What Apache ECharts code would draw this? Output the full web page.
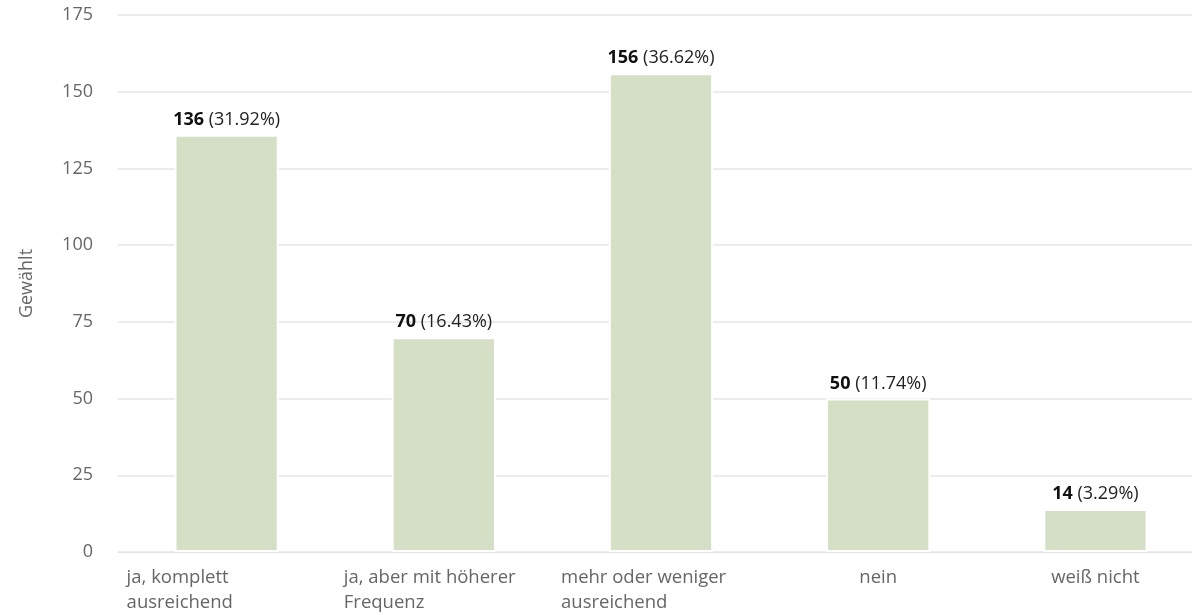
<!DOCTYPE html>
<html>
<head>
<meta charset="utf-8">
<script src="https://cdn.jsdelivr.net/npm/echarts@6/dist/echarts.min.js"></script>
<style>
  html, body { margin: 0; padding: 0; background: #fff; }
  #chart { width: 1192px; height: 615px; }
</style>
</head>
<body>
<div id="chart"></div>
<script>
const categories = [
    'ja, komplett\nausreichend',
    'ja, aber mit höherer\nFrequenz',
    'mehr oder weniger\nausreichend',
    'nein',
    'weiß nicht'
];
const votes = [136, 70, 156, 50, 14];
const shares = ['31.92%', '16.43%', '36.62%', '11.74%', '3.29%'];
const yTicks = { min: 0, max: 175, interval: 25 };

document.addEventListener('DOMContentLoaded', function () {
    const chart = echarts.init(document.getElementById('chart'));
    const font = '"Open Sans", "Noto Sans", sans-serif';

    const option = {
        animation: false,
        textStyle: { fontFamily: font },
        grid: {
            left: 118,
            top: 15,
            width: 1086,
            bottom: 63,
            outerBoundsMode: 'none'
        },
        xAxis: {
            type: 'category',
            data: categories,
            axisLine: { show: true, lineStyle: { color: '#e3e3e3', width: 1 } },
            axisTick: { show: false },
            axisLabel: {
                interval: 0,
                margin: 13,
                color: '#666',
                fontSize: 18.5,
                lineHeight: 25,
                fontFamily: font,
                formatter: function (name) {
                    const lines = name.split('\n');
                    if (lines.length === 1) return name;
                    return lines.map(l => '{w|' + l + '}').join('\n');
                },
                rich: {
                    w: { width: 200, align: 'left', color: '#666', fontSize: 18.5, lineHeight: 25, fontFamily: font }
                }
            }
        },
        yAxis: {
            type: 'value',
            min: yTicks.min,
            max: yTicks.max,
            interval: yTicks.interval,
            name: 'Gewählt',
            nameLocation: 'middle',
            nameGap: 82,
            nameRotate: 90,
            nameTextStyle: { color: '#666', fontSize: 18, fontFamily: font },
            axisLabel: { color: '#666', fontSize: 18, margin: 25, fontFamily: font, padding: [4, 0, 0, 0] },
            axisLine: { show: false },
            axisTick: { show: false },
            splitLine: { lineStyle: { color: '#e6e6e6', width: 1.5 } }
        },
        series: [{
            type: 'bar',
            data: votes,
            barWidth: '48%',
            itemStyle: { color: '#d4dfc6', borderColor: '#fff', borderWidth: 2 },
            label: {
                show: true,
                position: 'top',
                distance: 6,
                fontFamily: font,
                formatter: function (p) {
                    return '{b|' + p.value + '}{r| (' + shares[p.dataIndex] + ')}';
                },
                rich: {
                    b: { fontWeight: 'bold', color: '#111', fontSize: 18, fontFamily: font },
                    r: { color: '#222', fontSize: 18, fontFamily: font }
                }
            }
        }]
    };

    chart.setOption(option);
});
</script>
</body>
</html>
